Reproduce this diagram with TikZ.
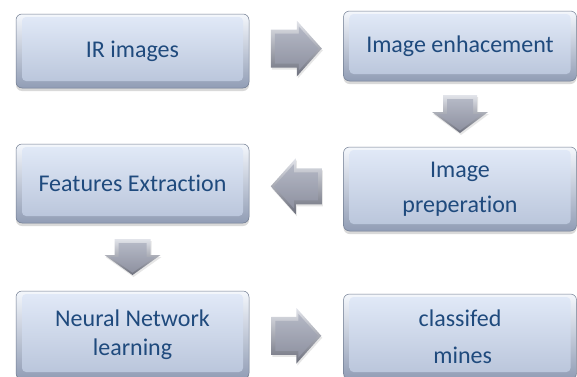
\documentclass[tikz,border=0pt]{standalone}
\usepackage{fontspec}
\setmainfont{Carlito}[Ligatures=NoCommon]
\usepackage{tikz}
\usetikzlibrary{calc,shadows,positioning}
\definecolor{schrift}{HTML}{1F4A7D}
\definecolor{kastenrand}{HTML}{6F7B90}
\definecolor{kastenhell}{HTML}{F4F7FC}
\definecolor{kastendunkel}{HTML}{919DB5}
\definecolor{flaecheoben}{HTML}{E2EAF8}
\definecolor{flaecheunten}{HTML}{B7C3D9}
\definecolor{pfeilhell}{HTML}{E2E4EA}
\definecolor{pfeildunkel}{HTML}{6C6F7C}
\definecolor{pfeiloben}{HTML}{B4B8C5}
\definecolor{pfeilunten}{HTML}{8E91A0}

\begin{document}
\begin{tikzpicture}[x=1pt,y=1pt,
  kasten/.style={rounded corners=6pt,draw=kastenrand,line width=.5pt,
    top color=kastenhell,bottom color=kastendunkel,
    drop shadow={opacity=.3,shadow xshift=0pt,shadow yshift=-3pt},
    path picture={\shade[rounded corners=4pt,top color=flaecheoben,bottom color=flaecheunten]
      ($(path picture bounding box.south west)+(6pt,7pt)$) rectangle
      ($(path picture bounding box.north east)+(-6pt,-3pt)$);},
    minimum width=233pt,inner sep=0pt,text=schrift,align=center,
    font=\fontsize{24}{29}\selectfont},
  %Blockpfeil: Laenge / Spitzenlaenge / halbe Schaftbreite
  pics/pfeil/.style args={#1/#2/#3}{code={
    \pgfmathsetmacro\hL{#1/2}
    \pgfmathsetmacro\hb{\hL-#2}
    \pgfmathsetmacro\ti{\hb+2+22*#2/28}
    \shade[drop shadow={opacity=.2,shadow xshift=1pt,shadow yshift=-2pt},
      top color=pfeilhell,bottom color=pfeildunkel]
      (-\hL,-#3) -- (\hb,-#3) -- (\hb,-28) -- (\hL,0) -- (\hb,28) -- (\hb,#3) -- (-\hL,#3) -- cycle;
    \shade[top color=pfeiloben,bottom color=pfeilunten]
      (-\hL+4,-#3+4) -- (\hb+2,-#3+4) -- (\hb+2,-22) -- (\ti,0) -- (\hb+2,22) -- (\hb+2,#3-4) -- (-\hL+4,#3-4) -- cycle;
  }}]
\useasboundingbox (0,0) rectangle (577,376);
%Spalten
\pgfmathsetmacro\xL{132.5}
\pgfmathsetmacro\xR{460}

\node[kasten,minimum height=74pt] (irimg) at (\xL,325) {IR images};
\node[kasten,minimum height=70pt] (enhance) at (\xR,330) {Image enhacement};
\node[kasten,minimum height=84pt] (prep) at (\xR,187) {Image\\[6pt]preperation};
\node[kasten,minimum height=79pt] (features) at (\xL,192.5) {Features Extraction};
\node[kasten,minimum height=88pt] (neural) at (\xL,41) {Neural Network\\learning};
\node[kasten,minimum height=85pt] (classified) at (\xR,39.5) {classifed\\[8pt]\ mines};

%Pfeile jeweils in die Mitte zwischen zwei Kaesten
\pic at ($(irimg.east)!.5!(enhance.west)$) {pfeil=51/25/19};
\pic[rotate=-90] at ($(enhance.south)!.5!(prep.north)$) {pfeil=38/21/17};
\pic[rotate=180] at ($(prep.west)!.5!(features.east)$) {pfeil=51/25/18};
\pic[rotate=-90] at ($(features.south)!.5!(neural.north)$) {pfeil=36/20/18};
\pic at ($(neural.east)!.5!(classified.west)$) {pfeil=50/25/19};
\end{tikzpicture}
\end{document}
